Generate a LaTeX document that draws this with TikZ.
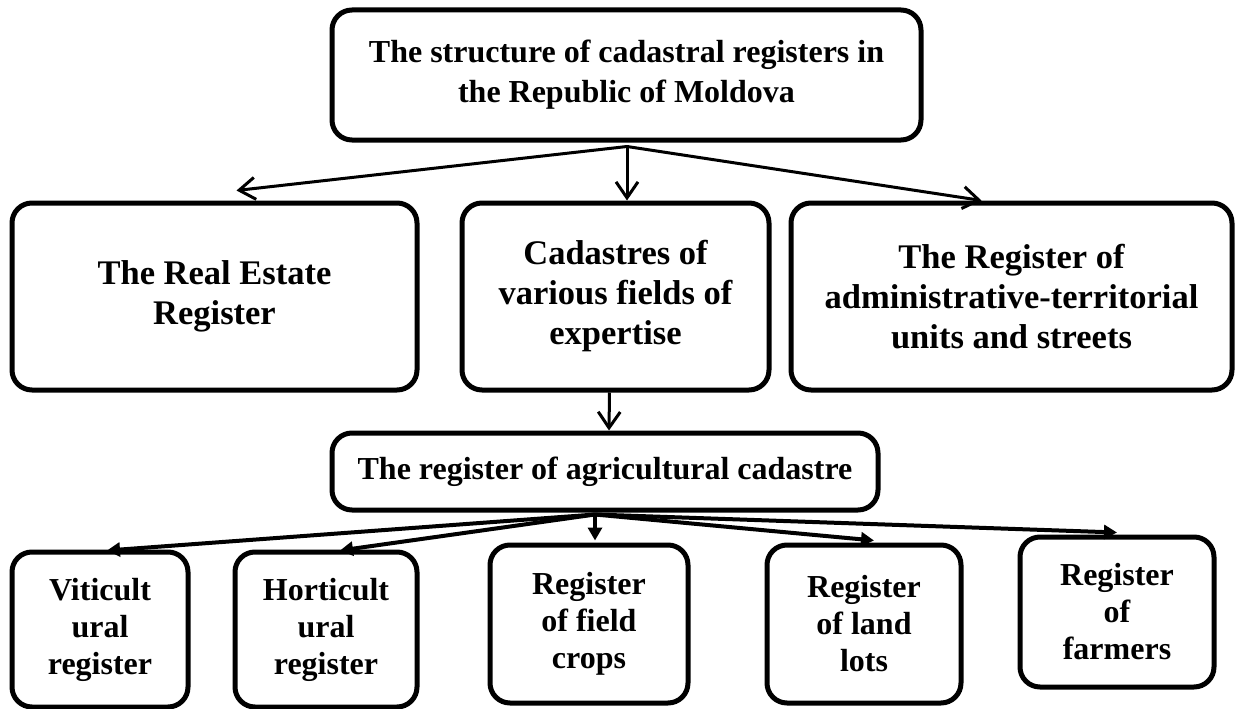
\documentclass[tikz,border=0pt]{standalone}
\usepackage{fontspec}
\setmainfont{Liberation Serif}
\usetikzlibrary{calc,arrows.meta}

\begin{document}
\begin{tikzpicture}[x=1pt,y=-1pt,
    regbox/.style={draw,line width=5pt,rounded corners=20pt,align=center,inner sep=0pt},
    bigtext/.style={font=\bfseries\fontsize{34.5}{40}\selectfont},
    midtext/.style={font=\bfseries\fontsize{32}{40}\selectfont},
    smalltext/.style={font=\bfseries\fontsize{32}{37}\selectfont},
    toparrow/.style={line width=3pt,-{Straight Barb[length=16pt,width=22pt,line width=3pt]}},
    subarrow/.style={line width=4pt,-{Triangle[length=13pt,width=14pt]}}]
    \useasboundingbox (0,0) rectangle (1235,709);

    \node[regbox,midtext,minimum width=589pt,minimum height=130pt] (structure) at (626.5,75) {The structure of cadastral registers in\\the Republic of Moldova};

    \node[regbox,bigtext,minimum width=405pt,minimum height=187pt] (realestate) at (214.5,296.5) {The Real Estate\\Register};
    \node[regbox,bigtext,minimum width=307pt,minimum height=187pt] (fields) at (615.5,296.5) {Cadastres of\\various fields of\\expertise};
    \node[regbox,bigtext,minimum width=441pt,minimum height=187pt] (admin) at (1011.5,296.5) {The Register of\\administrative-territorial\\units and streets};

    \node[regbox,midtext,minimum width=546pt,minimum height=77pt] (agri) at (605,471.5) {The register of agricultural cadastre};

    \node[regbox,smalltext,minimum width=176pt,minimum height=155pt] (viti) at (100,629.5) {Viticult\\ural\\register};
    \node[regbox,smalltext,minimum width=182pt,minimum height=155pt] (horti) at (326,629.5) {Horticult\\ural\\register};
    \node[regbox,smalltext,minimum width=198pt,minimum height=158pt] (crops) at (589,624) {Register\\of field\\crops};
    \node[regbox,smalltext,minimum width=194pt,minimum height=158pt] (lots) at (864,624) {Register\\of land\\lots};
    \node[regbox,smalltext,minimum width=194pt,minimum height=150pt] (farmers) at (1117,612) {Register\\of\\farmers};

    \coordinate (structfoot) at ($(structure.south)+(0.5,4)$);
    \coordinate (agrifoot) at ($(agri.south)+(-10,2)$);

    \draw[toparrow] (structfoot) -- ($(realestate.north)+(22,-10)$);
    \draw[toparrow] (structfoot) -- ($(fields.north)+(11.5,0)$);
    \draw[toparrow] (structfoot) -- ($(admin.north)+(-30,0)$);
    \draw[toparrow] ($(fields.south)+(-6,0)$) -- ($(agri.north)+(4,0)$);

    \draw[subarrow] (agrifoot) -- ($(viti.north)+(7,1)$);
    \draw[subarrow] (agrifoot) -- ($(horti.north)+(14,1)$);
    \draw[subarrow] (agrifoot) -- ($(crops.north)+(6,-2)$);
    \draw[subarrow] (agrifoot) -- ($(lots.north)+(10,-2)$);
    \draw[subarrow] (agrifoot) -- ($(farmers.north)+(0,-2)$);
\end{tikzpicture}
\end{document}
